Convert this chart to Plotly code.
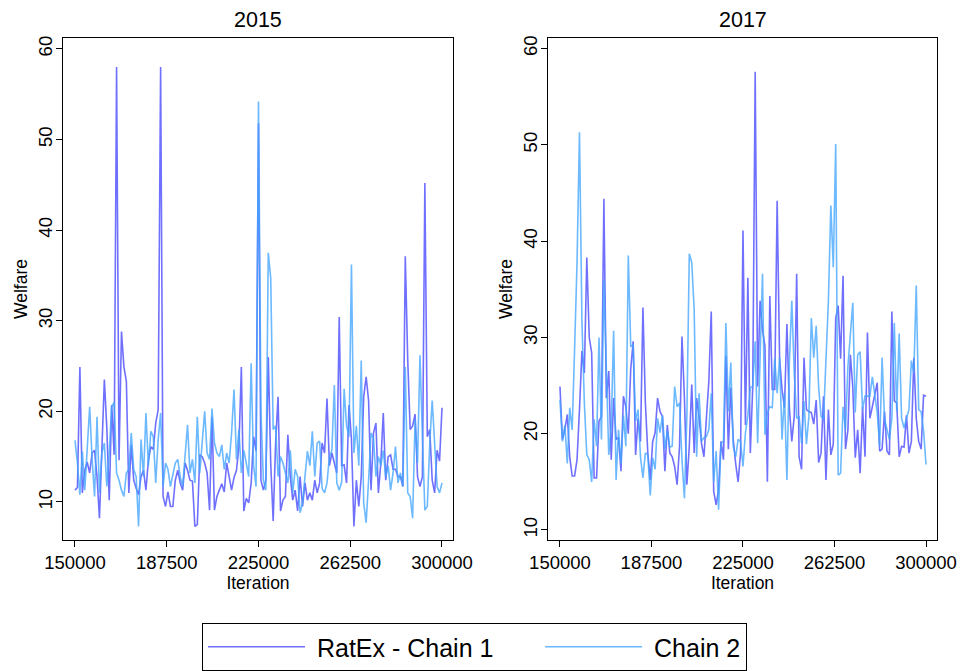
import plotly.graph_objects as go

# MCMC trace of welfare, thinned to every 1000th iteration (150000..300000)
iterations = list(range(150000, 300001, 1000))

welfare_2015_chain1 = [
    11.3, 11.6, 24.9, 11.0, 13.5, 14.4, 13.2, 15.4, 15.7, 12.8,
    8.2, 15.4, 23.5, 18.2, 10.2, 20.7, 15.2, 58.0, 14.6, 28.8,
    24.9, 23.3, 11.0, 16.3, 12.4, 11.5, 10.8, 12.8, 13.5, 11.3,
    14.6, 16.1, 15.8, 18.7, 20.2, 58.0, 10.6, 9.5, 11.1, 9.5,
    9.5, 12.4, 13.5, 12.1, 11.3, 14.3, 13.5, 12.4, 12.3, 7.3,
    7.5, 15.2, 15.0, 14.3, 13.2, 9.1, 19.4, 9.1, 10.6, 11.3,
    12.0, 11.1, 14.3, 12.8, 11.3, 12.7, 13.5, 16.1, 24.9, 9.0,
    10.4, 9.9, 12.1, 17.2, 15.6, 51.8, 12.4, 11.3, 12.4, 26.0,
    14.3, 7.9, 16.5, 21.6, 9.0, 10.2, 10.6, 17.4, 12.8, 10.2,
    11.3, 9.0, 12.8, 9.5, 12.1, 10.2, 11.0, 10.2, 12.4, 11.0,
    12.1, 16.5, 15.4, 21.4, 14.0, 15.4, 14.3, 13.2, 30.4, 14.0,
    14.1, 12.1, 20.7, 16.9, 7.3, 12.4, 9.5, 12.8, 21.6, 23.8,
    21.2, 11.3, 17.6, 18.7, 11.0, 14.3, 19.8, 12.4, 15.0, 15.2,
    13.6, 13.6, 12.8, 12.8, 11.7, 37.1, 25.6, 18.0, 18.4, 19.7,
    12.8, 11.7, 12.8, 45.2, 17.2, 18.0, 12.4, 11.0, 15.7, 14.5,
    20.4,
]

welfare_2015_chain2 = [
    16.8, 14.3, 10.8, 15.6, 11.3, 15.4, 20.5, 14.7, 10.6, 19.4,
    11.0, 15.4, 16.5, 11.7, 15.4, 20.5, 21.0, 13.2, 12.4, 11.3,
    10.6, 13.2, 13.6, 17.6, 13.6, 12.8, 7.3, 16.9, 12.8, 19.8,
    14.0, 17.8, 17.2, 12.1, 16.9, 19.8, 11.7, 14.3, 13.6, 11.7,
    13.2, 14.3, 14.7, 12.8, 11.7, 15.0, 18.5, 13.2, 14.7, 12.1,
    19.4, 13.2, 16.9, 20.0, 15.4, 14.7, 20.3, 16.5, 15.4, 15.0,
    16.3, 13.6, 15.4, 14.3, 17.6, 22.4, 14.7, 18.0, 13.2, 15.7,
    14.3, 12.8, 25.3, 14.0, 11.7, 54.2, 20.0, 12.4, 11.3, 37.5,
    34.7, 18.0, 18.4, 12.8, 15.0, 14.3, 13.2, 12.1, 15.7, 11.0,
    13.6, 12.8, 8.8, 9.9, 12.8, 15.6, 14.0, 17.8, 12.8, 16.5,
    16.7, 11.5, 11.0, 12.1, 15.0, 15.7, 22.9, 12.1, 11.3, 12.2,
    22.5, 18.4, 17.2, 36.2, 15.4, 18.4, 14.0, 25.6, 9.9, 7.7,
    12.4, 17.6, 17.0, 12.8, 15.0, 14.0, 15.7, 12.8, 14.0, 11.3,
    13.2, 16.1, 12.1, 13.2, 11.7, 24.9, 11.0, 10.6, 8.2, 19.1,
    14.3, 26.2, 17.2, 9.1, 9.5, 16.5, 21.2, 16.5, 11.7, 11.0,
    12.1,
]

welfare_2017_chain1 = [
    24.9, 19.4, 20.4, 22.0, 17.6, 15.6, 15.6, 17.3, 22.5, 28.6,
    26.3, 38.3, 30.0, 28.4, 15.4, 15.4, 21.3, 21.8, 44.4, 23.7,
    26.5, 17.3, 23.7, 19.4, 19.6, 16.1, 23.9, 22.8, 20.0, 26.7,
    29.6, 17.8, 21.6, 19.2, 33.1, 23.2, 18.0, 15.2, 19.2, 20.1,
    23.7, 22.3, 21.8, 16.1, 20.9, 18.0, 17.6, 16.6, 14.7, 18.7,
    30.1, 23.7, 14.7, 18.7, 25.1, 18.0, 23.7, 21.8, 19.0, 17.6,
    21.6, 25.4, 32.7, 14.0, 12.6, 14.2, 19.2, 17.3, 28.1, 18.4,
    24.8, 19.4, 16.9, 15.0, 18.0, 41.1, 20.9, 36.2, 18.0, 24.9,
    57.6, 24.9, 33.8, 30.8, 29.1, 15.0, 34.3, 24.6, 24.6, 44.2,
    27.8, 24.6, 22.7, 31.4, 22.7, 19.2, 21.8, 36.6, 17.6, 16.3,
    27.9, 22.5, 22.3, 22.2, 21.0, 23.5, 17.0, 18.0, 23.9, 15.2,
    22.5, 17.8, 18.9, 32.0, 33.3, 27.8, 36.4, 18.4, 20.4, 28.2,
    24.8, 17.5, 20.4, 15.9, 22.8, 17.6, 30.5, 21.6, 22.8, 23.9,
    25.3, 18.2, 18.4, 22.3, 18.2, 17.8, 32.7, 23.4, 23.2, 17.6,
    18.7, 18.6, 21.9, 18.0, 19.2, 27.9, 21.6, 19.2, 18.4, 24.0,
    23.9,
]

welfare_2017_chain2 = [
    23.5, 19.2, 20.9, 16.9, 22.7, 20.4, 28.8, 37.8, 51.3, 31.7,
    23.2, 17.8, 17.3, 15.0, 21.5, 18.7, 30.0, 19.4, 36.0, 25.3,
    17.8, 20.8, 30.7, 15.2, 20.4, 16.9, 21.9, 18.7, 38.5, 29.1,
    29.2, 21.3, 22.5, 17.6, 15.4, 18.0, 17.8, 13.6, 17.5, 16.3,
    21.6, 20.1, 21.9, 18.4, 20.3, 18.6, 18.7, 24.9, 22.8, 23.2,
    17.3, 13.3, 21.8, 38.7, 37.8, 32.9, 17.6, 24.2, 19.2, 19.6,
    19.7, 20.4, 24.2, 15.0, 18.2, 12.1, 19.0, 19.2, 31.5, 22.3,
    27.4, 18.7, 17.6, 19.4, 19.2, 16.6, 20.1, 21.9, 24.8, 24.9,
    29.6, 19.0, 27.4, 36.6, 19.9, 22.2, 22.8, 22.7, 27.8, 24.2,
    27.9, 19.4, 24.2, 15.2, 27.4, 33.8, 26.3, 21.6, 21.8, 19.0,
    23.4, 18.9, 21.8, 32.0, 27.9, 31.2, 24.8, 21.8, 21.5, 28.2,
    33.8, 43.7, 37.3, 50.1, 15.7, 15.9, 22.8, 20.4, 27.0, 30.3,
    33.6, 22.2, 28.2, 28.5, 22.5, 23.9, 23.9, 23.9, 25.9, 23.9,
    22.2, 18.7, 27.9, 21.5, 20.4, 19.4, 21.6, 31.5, 22.3, 30.4,
    21.6, 20.6, 21.6, 22.5, 27.6, 26.3, 35.4, 22.5, 22.3, 20.3,
    16.8,
]

panel_titles = ["2015", "2017"]
x_ticks = [150000, 187500, 225000, 262500, 300000]
y_ticks = [10, 20, 30, 40, 50, 60]
chain_names = ["RatEx - Chain 1", "Chain 2"]
chain_colors = ["rgba(72, 72, 255, 0.78)", "rgba(66, 165, 255, 0.78)"]

W, H = 963, 671
FONT = "Liberation Sans, Arial, sans-serif"
NBSP = "\u00a0"

fig = go.Figure()

panels = [
    ("x", "y", [welfare_2015_chain1, welfare_2015_chain2]),
    ("x2", "y2", [welfare_2017_chain1, welfare_2017_chain2]),
]
for p, (xa, ya, series) in enumerate(panels):
    for i, (name, color, vals) in enumerate(zip(chain_names, chain_colors, series)):
        # small lead-in gap after the key line, extra trailing gap between entries
        label = NBSP + name + (NBSP * 6 if i == 0 else "")
        fig.add_trace(go.Scatter(
            x=iterations, y=vals, mode="lines", name=label,
            xaxis=xa, yaxis=ya,
            line=dict(color=color, width=1.6),
            showlegend=(p == 0),
        ))

# plot-area geometry in pixels
left_px = [(63, 453), (548, 937)]
top_px, bottom_px = 38, 540


def xd(a, b):
    return [a / W, b / W]


y_dom = [1 - bottom_px / H, 1 - top_px / H]

axis_common = dict(
    showline=True, linecolor="black", linewidth=1, mirror=True,
    ticks="outside", ticklen=6, tickcolor="black", tickwidth=1,
    showgrid=False, zeroline=False, automargin=False,
    tickfont=dict(family=FONT, size=18.5, color="black"),
)
title_font = dict(family=FONT, size=17.5, color="black")

fig.update_layout(
    xaxis=dict(domain=xd(*left_px[0]), range=[145100, 304500], anchor="y",
               tickvals=x_ticks, ticktext=[str(v) for v in x_ticks],
               title=dict(text="Iteration", standoff=0, font=title_font),
               **axis_common),
    yaxis=dict(domain=y_dom, range=[5.8, 61.2], anchor="x",
               tickvals=y_ticks, tickangle=-90, ticklabelstandoff=-3,
               title=dict(text="Welfare", standoff=2, font=title_font),
               **axis_common),
    xaxis2=dict(domain=xd(*left_px[1]), range=[145100, 304500], anchor="y2",
                tickvals=x_ticks, ticktext=[str(v) for v in x_ticks],
                title=dict(text="Iteration", standoff=0, font=title_font),
                **axis_common),
    yaxis2=dict(domain=y_dom, range=[8.96, 61.1], anchor="x2",
                tickvals=y_ticks, tickangle=-90, ticklabelstandoff=-3,
                title=dict(text="Welfare", standoff=2, font=title_font),
                **axis_common),
)

for (a, b), t in zip(left_px, panel_titles):
    fig.add_annotation(
        text=t, x=(a + b) / 2 / W, y=1 - 20 / H, xref="paper", yref="paper",
        showarrow=False, xanchor="center", yanchor="middle",
        font=dict(family=FONT, size=21.5, color="black"),
    )

fig.update_layout(
    width=W, height=H,
    margin=dict(l=0, r=0, t=0, b=0, autoexpand=False),
    paper_bgcolor="white", plot_bgcolor="white",
    font=dict(family=FONT, color="black"),
    legend=dict(
        orientation="h", x=474.5 / W, xanchor="center",
        y=1 - 623 / H, yanchor="top",
        bordercolor="black", borderwidth=1, bgcolor="white",
        font=dict(family=FONT, size=25, color="black"),
        itemwidth=97, traceorder="normal",
    ),
)

fig.write_html("out.html")
